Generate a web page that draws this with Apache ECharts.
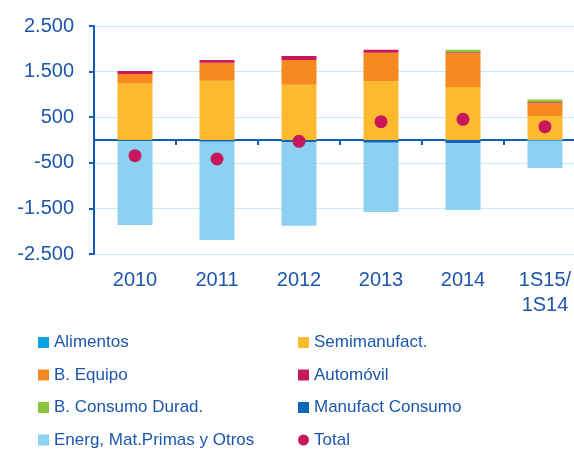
<!DOCTYPE html>
<html>
<head>
<meta charset="utf-8">
<script src="https://cdn.jsdelivr.net/npm/echarts@6/dist/echarts.min.js"></script>
<style>
  html, body { margin: 0; padding: 0; background: #fff; }
  #chart { width: 574px; height: 454px; }
</style>
</head>
<body>
<div id="chart"></div>
<script>
// datos
var categories = ['2010', '2011', '2012', '2013', '2014', '1S15/\n1S14'];
var alimentos = [0, 0, 0, 0, 0, 0];
var semimanufact = [1250, 1301, 1213, 1287, 1162, 526];
var bEquipo = [197, 394, 541, 628, 748, 292];
var automovil = [66, 59, 88, 65, 15, 15];
var bConsumoDurad = [0, 0, 0, 0, 55, 55];
var manufactConsumo = [-30, -40, -45, -60, -70, -10];
var energ = [-1834, -2153, -1834, -1519, -1465, -604];
var total = [-344, -417, -29, 402, 453, 292];
var yTicks = [-2500, 2500, 1000]; // min, max, interval

var blue = '#1c56ad';
var font = '"Liberation Sans", Arial, sans-serif';

function bar(name, data, color) {
  return {
    name: name,
    type: 'bar',
    stack: 'total',
    barWidth: 35,
    data: data,
    itemStyle: { color: color }
  };
}

var legendText = { color: blue, fontSize: 17, lineHeight: 17, fontFamily: font };

var chart = echarts.init(document.getElementById('chart'));
chart.setOption({
  backgroundColor: '#fff',
  animation: false,
  textStyle: { fontFamily: font },
  grid: { left: 94, top: 26, width: 492, height: 228, outerBoundsMode: 'none' },
  legend: [
    {
      left: 38,
      top: 334,
      height: 130,
      padding: 0,
      orient: 'vertical',
      itemWidth: 11,
      itemHeight: 11,
      itemGap: 15.5,
      textStyle: legendText,
      data: [
        { name: 'Alimentos', icon: 'rect' },
        { name: 'B. Equipo', icon: 'rect' },
        { name: 'B. Consumo Durad.', icon: 'rect' },
        { name: 'Energ, Mat.Primas y Otros', icon: 'rect' }
      ]
    },
    {
      left: 298,
      top: 334,
      height: 130,
      padding: 0,
      orient: 'vertical',
      itemWidth: 11,
      itemHeight: 11,
      itemGap: 15.5,
      textStyle: legendText,
      data: [
        { name: 'Semimanufact.', icon: 'rect' },
        { name: 'Automóvil', icon: 'rect' },
        { name: 'Manufact Consumo', icon: 'rect' },
        { name: 'Total', icon: 'circle' }
      ]
    }
  ],
  xAxis: [
    {
      type: 'category',
      data: categories,
      position: 'bottom',
      axisLine: { show: false, onZero: false },
      axisTick: { show: false },
      axisLabel: { color: blue, fontSize: 20, lineHeight: 25, margin: 14, fontFamily: font, interval: 0 }
    },
    {
      type: 'category',
      data: categories,
      position: 'bottom',
      axisLine: { show: true, onZero: true, lineStyle: { color: '#0f5bb5', width: 2 } },
      axisTick: { show: true, length: 5, lineStyle: { color: '#0f5bb5', width: 2 } },
      axisLabel: { show: false }
    }
  ],
  yAxis: {
    type: 'value',
    min: yTicks[0],
    max: yTicks[1],
    interval: yTicks[2],
    axisLine: { show: true, lineStyle: { color: '#0f5bb5', width: 2 } },
    axisTick: { show: true, length: 5, lineStyle: { color: '#0f5bb5', width: 2 } },
    splitLine: { lineStyle: { color: '#c9e9f8', width: 1 } },
    axisLabel: {
      color: blue,
      fontSize: 20,
      margin: 20,
      fontFamily: font,
      formatter: function (v) {
        return String(v).replace(/\B(?=(\d{3})+(?!\d))/g, '.');
      }
    }
  },
  series: [
    bar('Alimentos', alimentos, '#0aa3df'),
    bar('Semimanufact.', semimanufact, '#fdba2e'),
    bar('B. Equipo', bEquipo, '#f58a20'),
    bar('Automóvil', automovil, '#c9175c'),
    bar('B. Consumo Durad.', bConsumoDurad, '#8cc43f'),
    bar('Manufact Consumo', manufactConsumo, '#0b67b9'),
    bar('Energ, Mat.Primas y Otros', energ, '#8cd1f1'),
    {
      name: 'Total',
      type: 'scatter',
      symbol: 'circle',
      symbolSize: 13,
      data: total,
      z: 5,
      itemStyle: { color: '#c9175c', opacity: 1 }
    }
  ]
});
</script>
</body>
</html>
